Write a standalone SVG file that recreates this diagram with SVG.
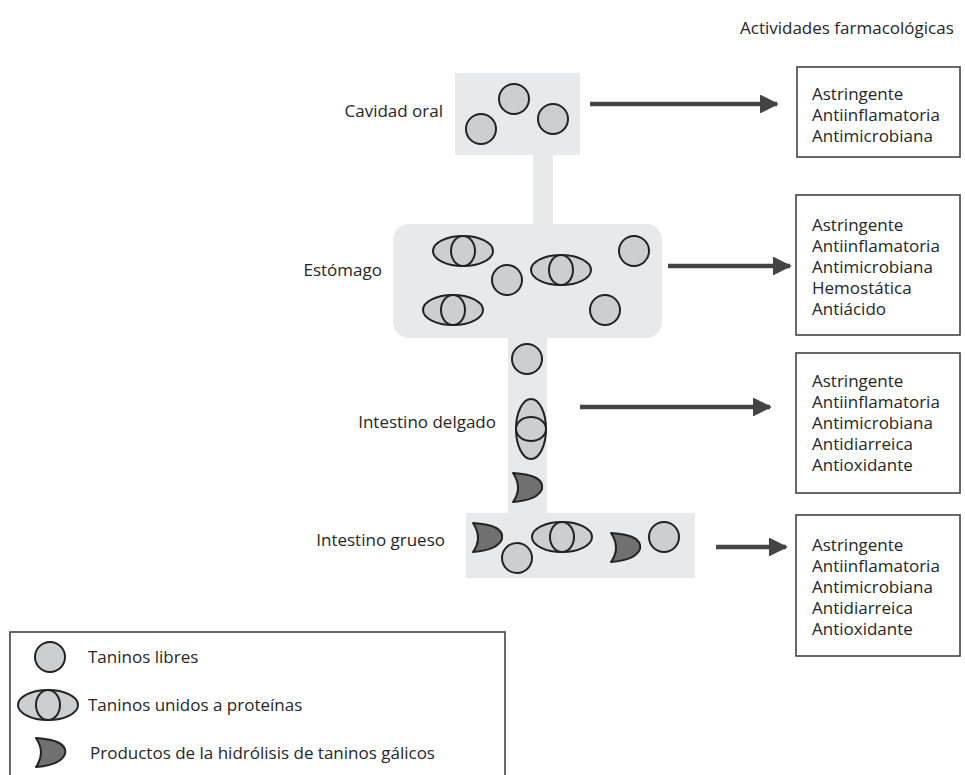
<svg xmlns="http://www.w3.org/2000/svg" xmlns:xlink="http://www.w3.org/1999/xlink" width="965" height="775" viewBox="0 0 965 775">
<style>
text{font-family:"Open Sans","Noto Sans","DejaVu Sans",sans-serif;font-size:17px;fill:#262626}
.tract{fill:#e8e9ea}
.free{fill:#cdcecf;stroke:#222;stroke-width:2}
.prod{fill:#707070;stroke:#222;stroke-width:2;stroke-linejoin:round}
.box{fill:#fff;stroke:#444;stroke-width:1.6}
.arrow{stroke:#444;stroke-width:4.5;fill:none}
</style>
<defs>
<marker id="ah" viewBox="0 0 10 10" refX="9" refY="5" markerWidth="4.2" markerHeight="4.2" orient="auto" markerUnits="strokeWidth">
<path d="M0,0 L10,5 L0,10 Z" fill="#444"/>
</marker>
<g id="bound">
<ellipse class="free" cx="0" cy="0" rx="30" ry="15"/>
<ellipse class="free" cx="0" cy="0" rx="12" ry="15"/>
</g>
<path id="cres" class="prod" d="M-14,-15 Q18,-13 15,1 Q11,12 -14,14 Q-4,0 -14,-15 Z"/>
</defs>

<g id="tract">
<rect class="tract" x="455" y="73" width="125" height="82"/>
<rect class="tract" x="533" y="155" width="20" height="70"/>
<rect class="tract" x="393" y="224" width="269" height="114" rx="16"/>
<rect class="tract" x="508" y="337" width="39" height="177"/>
<rect class="tract" x="466" y="513" width="229" height="65"/>
</g>

<g id="cavidad-oral">
<text x="443" y="117" text-anchor="end">Cavidad oral</text>
<circle class="free" cx="481" cy="129" r="15"/>
<circle class="free" cx="514" cy="99" r="15"/>
<circle class="free" cx="553" cy="119" r="15"/>
</g>

<g id="estomago">
<text x="382" y="276" text-anchor="end">Estómago</text>
<use xlink:href="#bound" href="#bound" x="463" y="251"/>
<use xlink:href="#bound" href="#bound" x="453" y="310"/>
<use xlink:href="#bound" href="#bound" x="561" y="270"/>
<circle class="free" cx="507" cy="280" r="15"/>
<circle class="free" cx="634" cy="251" r="15"/>
<circle class="free" cx="605" cy="310" r="15"/>
</g>

<g id="intestino-delgado">
<text x="496" y="428" text-anchor="end">Intestino delgado</text>
<circle class="free" cx="527" cy="359" r="15"/>
<use xlink:href="#bound" href="#bound" transform="translate(531,429) rotate(90)"/>
<use xlink:href="#cres" href="#cres" x="527" y="488"/>
</g>

<g id="intestino-grueso">
<text x="445" y="546" text-anchor="end">Intestino grueso</text>
<use xlink:href="#cres" href="#cres" x="487" y="538"/>
<circle class="free" cx="517" cy="558" r="15"/>
<use xlink:href="#bound" href="#bound" x="562" y="537"/>
<use xlink:href="#cres" href="#cres" x="625" y="548"/>
<circle class="free" cx="664" cy="537" r="15"/>
</g>

<g id="connectors">
<line class="arrow" x1="590" y1="104" x2="777" y2="104" marker-end="url(#ah)"/>
<line class="arrow" x1="668" y1="266" x2="790" y2="266" marker-end="url(#ah)"/>
<line class="arrow" x1="580" y1="407" x2="770" y2="407" marker-end="url(#ah)"/>
<line class="arrow" x1="716" y1="547" x2="786" y2="547" marker-end="url(#ah)"/>
</g>

<g id="title">
<text x="740" y="34">Actividades farmacológicas</text>
</g>

<g id="act-oral">
<rect class="box" x="797" y="67" width="163" height="90"/>
<text x="812" y="100">Astringente</text>
<text x="812" y="121">Antiinflamatoria</text>
<text x="812" y="142">Antimicrobiana</text>
</g>

<g id="act-estomago">
<rect class="box" x="796" y="195" width="164" height="140"/>
<text x="812" y="231">Astringente</text>
<text x="812" y="252">Antiinflamatoria</text>
<text x="812" y="273">Antimicrobiana</text>
<text x="812" y="294">Hemostática</text>
<text x="812" y="315">Antiácido</text>
</g>

<g id="act-delgado">
<rect class="box" x="796" y="353" width="164" height="140"/>
<text x="812" y="387">Astringente</text>
<text x="812" y="408">Antiinflamatoria</text>
<text x="812" y="429">Antimicrobiana</text>
<text x="812" y="450">Antidiarreica</text>
<text x="812" y="471">Antioxidante</text>
</g>

<g id="act-grueso">
<rect class="box" x="796" y="515" width="164" height="141"/>
<text x="812" y="551">Astringente</text>
<text x="812" y="572">Antiinflamatoria</text>
<text x="812" y="593">Antimicrobiana</text>
<text x="812" y="614">Antidiarreica</text>
<text x="812" y="635">Antioxidante</text>
</g>

<g id="legend">
<rect class="box" x="10" y="632" width="495" height="160"/>
<circle class="free" cx="50" cy="657" r="15"/>
<text x="88" y="663">Taninos libres</text>
<use xlink:href="#bound" href="#bound" x="48" y="705"/>
<text x="88" y="711">Taninos unidos a proteínas</text>
<use xlink:href="#cres" href="#cres" x="50" y="753"/>
<text x="90" y="759">Productos de la hidrólisis de taninos gálicos</text>
</g>
</svg>
